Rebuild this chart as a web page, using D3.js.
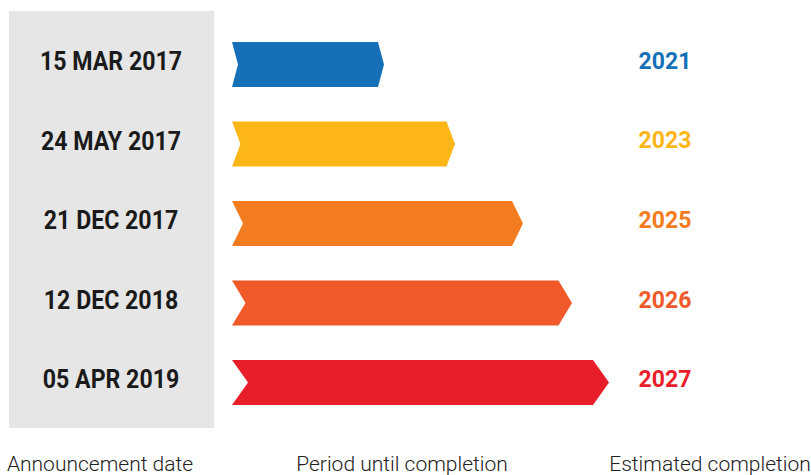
<!DOCTYPE html>
<html>
<head>
<meta charset="utf-8">
<script src="https://cdn.jsdelivr.net/npm/d3@7"></script>
<style>
  body { margin: 0; background: #fff; }
  svg { display: block; }
  text { font-family: Roboto, "Noto Sans", sans-serif; }
</style>
</head>
<body>
<svg id="chart" width="811" height="475"></svg>
<script>
// announcement dates (left column)
var announced = ["15 MAR 2017", "24 MAY 2017", "21 DEC 2017", "12 DEC 2018", "05 APR 2019"];
// period until completion (arbitrary units)
var period = [152, 223, 291, 340, 377];
// estimated completion year
var completion = ["2021", "2023", "2025", "2026", "2027"];
var colors = ["#1570b8", "#fdb618", "#f47c20", "#f05a2a", "#e81e2a"];
var footer = ["Announcement date", "Period until completion", "Estimated completion"];

var svg = d3.select("#chart");

var x = d3.scaleLinear().domain([0, 400]).range([232, 632]);
var y = d3.scaleBand()
  .domain(d3.range(announced.length))
  .range([26.1, 420.9])
  .paddingInner(0.434)
  .paddingOuter(0.2);

// grey panel behind the dates
svg.append("rect")
  .attr("x", 9)
  .attr("y", 11)
  .attr("width", 205)
  .attr("height", 417)
  .attr("fill", "#e6e6e6");

svg.selectAll(".date")
  .data(announced)
  .enter()
  .append("text")
  .attr("class", "date")
  .attr("transform", function(d, i) {
    return "translate(111," + (y(i) + y.bandwidth() / 2 - 3) + ") scale(0.89,1)";
  })
  .attr("text-anchor", "middle")
  .attr("dominant-baseline", "central")
  .attr("font-size", 26)
  .attr("font-weight", 700)
  .attr("fill", "#1a1a1a")
  .text(function(d) { return d; });

// chevron depth grows a little with bar length
function depth(i) {
  return 6 + 10 * i / (announced.length - 1);
}

svg.selectAll(".bar")
  .data(period)
  .enter()
  .append("path")
  .attr("class", "bar")
  .attr("fill", function(d, i) { return colors[i]; })
  .attr("d", function(d, i) {
    var x0 = x(0), x1 = x(d), t = y(i), b = t + y.bandwidth(), m = (t + b) / 2;
    var k = depth(i);
    return "M" + x0 + "," + t +
      "L" + (x1 - k) + "," + t +
      "L" + x1 + "," + m +
      "L" + (x1 - k) + "," + b +
      "L" + x0 + "," + b +
      "L" + (x0 + k) + "," + m + "Z";
  });

svg.selectAll(".year")
  .data(completion)
  .enter()
  .append("text")
  .attr("class", "year")
  .attr("x", 665)
  .attr("y", function(d, i) { return y(i) + y.bandwidth() / 2 - 3; })
  .attr("text-anchor", "middle")
  .attr("dominant-baseline", "central")
  .attr("font-size", 23)
  .attr("font-weight", 700)
  .attr("fill", function(d, i) { return colors[i]; })
  .text(function(d) { return d; });

var footX = [100, 402, 710];
svg.selectAll(".foot")
  .data(footer)
  .enter()
  .append("text")
  .attr("class", "foot")
  .attr("x", function(d, i) { return footX[i]; })
  .attr("y", 471)
  .attr("text-anchor", "middle")
  .attr("font-size", 21)
  .attr("font-weight", 300)
  .attr("fill", "#222")
  .text(function(d) { return d; });
</script>
</body>
</html>
